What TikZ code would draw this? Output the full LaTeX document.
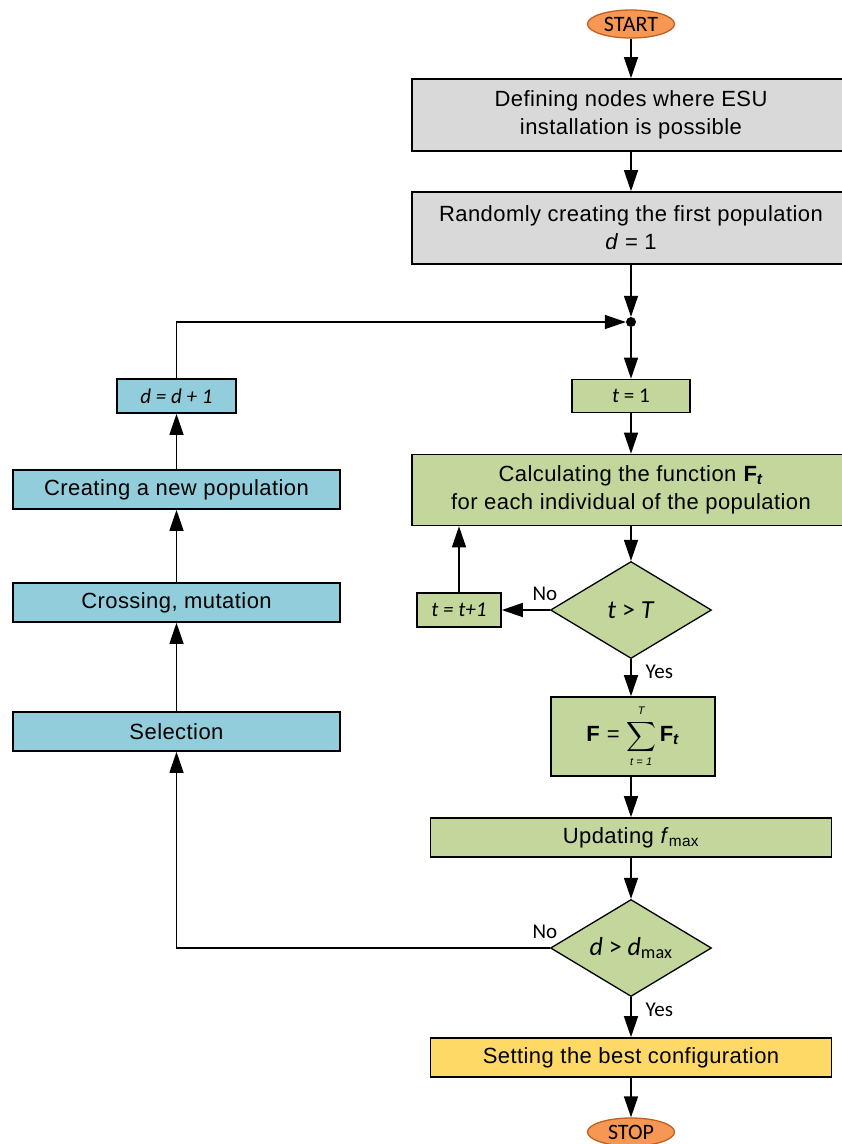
\documentclass[tikz,border=0pt]{standalone}
\usepackage{amsmath}
\usepackage{fontspec}
\setmainfont{Liberation Sans}[LetterSpace=2]
\newfontfamily\calfont{Carlito}
\usepackage{tikz}
\usetikzlibrary{shapes.geometric}
\usetikzlibrary{arrows.meta}
\definecolor{boxgray}{RGB}{217,217,217}
\definecolor{boxgreen}{RGB}{195,214,155}
\definecolor{boxblue}{RGB}{146,205,220}
\definecolor{boxyellow}{RGB}{255,217,102}
\definecolor{termfill}{RGB}{246,152,84}
\definecolor{termdraw}{RGB}{192,96,32}
\newcommand{\limtext}[1]{\mbox{\fontsize{11}{11}\selectfont\itshape #1}}

\begin{document}
\begin{tikzpicture}[x=1pt,y=-1pt]
\tikzset{BoxStyle/.style={draw, rectangle, line width=1.6pt, inner sep=0pt, align=center,
    font=\fontsize{22}{28}\selectfont},
  SmallBox/.style={BoxStyle, font=\calfont\itshape\fontsize{21}{24}\selectfont},
  DiaStyle/.style={draw, diamond, aspect=1.66, fill=boxgreen, line width=1.3pt, inner sep=0pt,
    minimum width=161pt, minimum height=97pt, font=\calfont\fontsize{26}{28}\selectfont},
  TermStyle/.style={draw=termdraw, fill=termfill, ellipse, line width=1.3pt, inner sep=0pt,
    minimum width=87pt, minimum height=28pt, font=\calfont\fontsize{22}{22}\selectfont},
  DotStyle/.style={circle, fill, inner sep=0pt, minimum size=10pt},
  LabelStyle/.style={inner sep=0pt, font=\calfont\fontsize{21}{24}\selectfont},
  EdgeStyle/.style={line width=1.4pt, -{Triangle[length=21pt,width=14pt]}}}
\useasboundingbox (0,0) rectangle (842,1144);

\node[TermStyle] (start) at (631,24) {START};
\node[BoxStyle, fill=boxgray, minimum width=438pt, minimum height=72pt] (def) at (631,115)
  {Defining nodes where ESU\\installation is possible};
\node[BoxStyle, fill=boxgray, minimum width=438pt, minimum height=72pt] (init) at (631,228)
  {Randomly creating the first population\\\textit{d} = 1};
\node[DotStyle] (dot) at (631,322) {};
\node[SmallBox, fill=boxgreen, minimum width=118pt, minimum height=33pt] (tone) at (631,396)
  {t {\upshape= 1}};
\node[BoxStyle, fill=boxgreen, minimum width=438pt, minimum height=71pt] (calc) at (631,490)
  {Calculating the function \textbf{F\textsubscript{\textit{t}}}\\for each individual of the population};
\node[DiaStyle] (tcheck) at (631,610) {\textit{t} > \textit{T}};
\node[SmallBox, fill=boxgreen, minimum width=84pt, minimum height=34pt] (tinc) at (459,610)
  {t = t+1};
\node[BoxStyle, fill=boxgreen, minimum width=164pt, minimum height=79pt] (sum) at (633,736.5)
  {\textbf{F} = $\displaystyle\sum_{\rule{0pt}{9pt}\limtext{t = 1}}^{\limtext{T}\rule[-3pt]{0pt}{3pt}}$\,\textbf{F\textsubscript{\textit{t}}}};
\node[BoxStyle, fill=boxgreen, minimum width=401pt, minimum height=39pt] (upd) at (631,837.5)
  {Updating \textit{f}\textsubscript{max}};
\node[DiaStyle] (dcheck) at (631,948) {\textit{d} > \textit{d}\textsubscript{max}};
\node[BoxStyle, fill=boxyellow, minimum width=401pt, minimum height=39pt] (best) at (631,1057.5)
  {Setting the best configuration};
\node[TermStyle] (stop) at (631,1132) {STOP};

\node[SmallBox, fill=boxblue, minimum width=119pt, minimum height=34pt] (dinc) at (176.5,396)
  {d = d + 1};
\node[BoxStyle, fill=boxblue, minimum width=327pt, minimum height=39pt] (newpop) at (176.5,489.5)
  {Creating a new population};
\node[BoxStyle, fill=boxblue, minimum width=327pt, minimum height=39pt] (cross) at (176.5,602.5)
  {Crossing, mutation};
\node[BoxStyle, fill=boxblue, minimum width=327pt, minimum height=39pt] (sel) at (176.5,731.5)
  {Selection};

\draw[EdgeStyle] (start) -- (def);
\draw[EdgeStyle] (def) -- (init);
\draw[EdgeStyle] (init) -- (dot);
\draw[EdgeStyle] (dot) -- (tone);
\draw[EdgeStyle] (tone) -- (calc);
\draw[EdgeStyle] (calc) -- (tcheck);
\draw[EdgeStyle] (tcheck.west) -- node[LabelStyle, at start, anchor=south east, xshift=8pt, yshift=9pt] {No} (tinc.east);
\draw[EdgeStyle] (tinc.north) -- (tinc.north |- calc.south);
\draw[EdgeStyle] (tcheck.south) -- node[LabelStyle, at start, anchor=north west, xshift=14pt, yshift=-5pt] {Yes} (tcheck.south |- sum.north);
\draw[EdgeStyle] (tcheck.south |- sum.south) -- (upd);
\draw[EdgeStyle] (upd) -- (dcheck);
\draw[EdgeStyle] (dcheck.south) -- node[LabelStyle, at start, anchor=north west, xshift=14pt, yshift=-5pt] {Yes} (best);
\draw[EdgeStyle] (best) -- (stop);
\draw[EdgeStyle] (dcheck.west) -| node[LabelStyle, pos=0, anchor=south east, xshift=8pt, yshift=9pt] {No} (sel.south);
\draw[EdgeStyle] (sel) -- (cross);
\draw[EdgeStyle] (cross) -- (newpop);
\draw[EdgeStyle] (newpop) -- (dinc);
\draw[EdgeStyle] (dinc.north) |- (dot);
\end{tikzpicture}
\end{document}
